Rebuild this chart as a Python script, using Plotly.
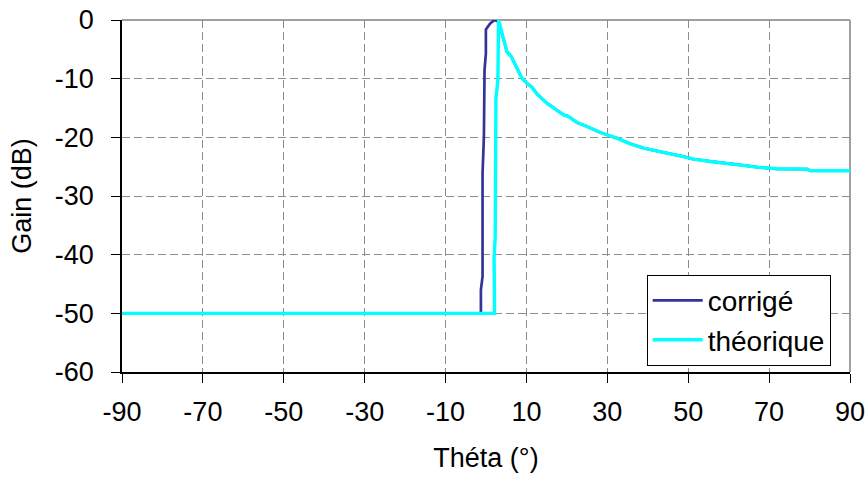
import plotly.graph_objects as go

# --- data ---
theta_corrige = [-90, -1.26, -1.26, -0.85, -0.85, -0.52, -0.36, -0.03, -0.03, 1.04, 2.12,
                 3.1, 3.93, 5.17, 6.24, 8.88, 10.12, 11.35, 12.59, 15.06, 17.13, 19.19, 20.43,
                 22.49, 24.96, 28.26, 32.38, 35.68, 38.98, 41.45, 44.75, 48.05, 51.35, 55.47,
                 59.6, 63.72, 67.02, 71.97, 79.39, 80.21, 90]
gain_corrige = [-50, -50, -46, -43.7, -26.1, -19.9, -8.5, -5.7, -1.6, -0.6, 0,
                -0.3, -2.27, -5.39, -6.24, -9.93, -10.78, -11.46, -12.6, -14.18, -15.2, -16.17, -16.45,
                -17.48, -18.16, -19.18, -20.14, -21.1, -21.84, -22.24, -22.7, -23.15, -23.72, -24.11,
                -24.51, -24.79, -25.08, -25.36, -25.42, -25.7, -25.7]

theta_theorique = [-90, 2.12, 2.0, 2.28, 2.45, 2.94, 3.1, 3.93, 5.17, 6.24, 8.88, 10.12, 11.35,
                   12.59, 15.06, 17.13, 19.19, 20.43, 22.49, 24.96, 28.26, 32.38, 35.68, 38.98,
                   41.45, 44.75, 48.05, 51.35, 55.47, 59.6, 63.72, 67.02, 71.97, 79.39, 80.21, 90]
gain_theorique = [-50, -50, -40.5, -37, -13.5, -10.2, 0, -2.27, -5.39, -6.24, -9.93, -10.78, -11.46,
                  -12.6, -14.18, -15.2, -16.17, -16.45, -17.48, -18.16, -19.18, -20.14, -21.1, -21.84,
                  -22.24, -22.7, -23.15, -23.72, -24.11, -24.51, -24.79, -25.08, -25.36, -25.42, -25.7, -25.7]

x_ticks = [-90, -70, -50, -30, -10, 10, 30, 50, 70, 90]
y_ticks = [0, -10, -20, -30, -40, -50, -60]

FONT = "Liberation Sans, Arial, sans-serif"
FS = 27

fig = go.Figure()
fig.add_trace(go.Scatter(x=theta_corrige, y=gain_corrige, mode="lines", name="corrigé",
                         line=dict(color="#333399", width=2.7)))
fig.add_trace(go.Scatter(x=theta_theorique, y=gain_theorique, mode="lines", name="théorique",
                         line=dict(color="#00FFFF", width=3.4)))

grid = dict(showgrid=True, gridcolor="#8c8c8c", gridwidth=1, griddash="8px,4px")

fig.update_layout(
    width=868, height=477,
    margin=dict(l=122, r=18, t=20, b=104.5, autoexpand=False),
    paper_bgcolor="white", plot_bgcolor="white",
    font=dict(family=FONT, size=FS, color="black"),
    showlegend=True,
    legend=dict(x=0.7207, y=0.2766, xanchor="left", yanchor="top",
                bgcolor="white", bordercolor="black", borderwidth=1,
                font=dict(family=FONT, size=28, color="black"),
                itemwidth=50, tracegroupgap=0),
    xaxis=dict(range=[-90, 90], tickvals=x_ticks, ticktext=[str(v) for v in x_ticks],
               ticks="outside", ticklen=9, tickcolor="black", tickwidth=1,
               ticklabelstandoff=6, automargin=False,
               showline=True, linecolor="black", linewidth=1.5,
               zeroline=False, title=dict(text="Théta (°)", standoff=22,
                                          font=dict(family=FONT, size=FS)),
               **grid),
    yaxis=dict(range=[-60, 0], tickvals=y_ticks, ticktext=[str(v) for v in y_ticks],
               ticks="outside", ticklen=9, tickcolor="black", tickwidth=1,
               ticklabelstandoff=12, automargin=False,
               showline=True, linecolor="black", linewidth=1.5,
               zeroline=False, title=dict(text="Gain (dB)", standoff=15,
                                          font=dict(family=FONT, size=FS)),
               **grid),
    shapes=[
        dict(type="line", xref="paper", yref="paper", x0=0, x1=1, y0=1, y1=1,
             line=dict(color="#a0a0a0", width=2), layer="below"),
        dict(type="line", xref="paper", yref="paper", x0=1, x1=1, y0=0, y1=1,
             line=dict(color="#a0a0a0", width=2), layer="below"),
    ],
)

fig.write_html("out.html")
